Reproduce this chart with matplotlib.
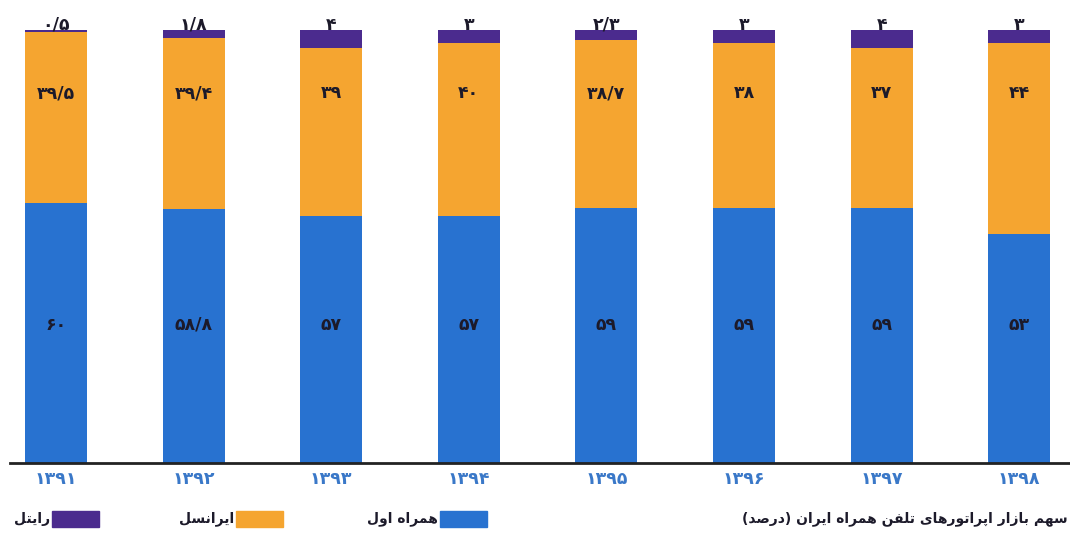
import numpy as np
import matplotlib
matplotlib.use('Agg')
import matplotlib.pyplot as plt
from matplotlib.patches import Rectangle

years = ['۱۳۹۱', '۱۳۹۲', '۱۳۹۳', '۱۳۹۴', '۱۳۹۵', '۱۳۹۶', '۱۳۹۷', '۱۳۹۸']
hamrah = [60, 58.8, 57, 57, 59, 59, 59, 53]
irancell = [39.5, 39.4, 39, 40, 38.7, 38, 37, 44]
rightel = [0.5, 1.8, 4, 3, 2.3, 3, 4, 3]
names = ['همراه اول', 'ایرانسل', 'رایتل']
title = 'سهم بازار اپراتورهای تلفن همراه ایران (درصد)'

blue = '#2872d0'
orange = '#f5a530'
purple = '#4b2b8e'
dark = '#1c1a2a'

# tiny persian shaper: matplotlib has no arabic shaping
forms = {
    'ا': ('\ufe8d', '\ufe8e', None, None),
    'ب': ('\ufe8f', '\ufe90', '\ufe91', '\ufe92'),
    'پ': ('\ufb56', '\ufb57', '\ufb58', '\ufb59'),
    'ت': ('\ufe95', '\ufe96', '\ufe97', '\ufe98'),
    'د': ('\ufea9', '\ufeaa', None, None),
    'ر': ('\ufead', '\ufeae', None, None),
    'ز': ('\ufeaf', '\ufeb0', None, None),
    'س': ('\ufeb1', '\ufeb2', '\ufeb3', '\ufeb4'),
    'ص': ('\ufeb9', '\ufeba', '\ufebb', '\ufebc'),
    'ف': ('\ufed1', '\ufed2', '\ufed3', '\ufed4'),
    'ل': ('\ufedd', '\ufede', '\ufedf', '\ufee0'),
    'م': ('\ufee1', '\ufee2', '\ufee3', '\ufee4'),
    'ن': ('\ufee5', '\ufee6', '\ufee7', '\ufee8'),
    'ه': ('\ufee9', '\ufeea', '\ufeeb', '\ufeec'),
    'و': ('\ufeed', '\ufeee', None, None),
    'ی': ('\ufbfc', '\ufbfd', '\ufbfe', '\ufbff'),
}


def fa(s):
    out = []
    for i, c in enumerate(s):
        if c not in forms:
            out.append({'(': ')', ')': '('}.get(c, c))
            continue
        prev = s[i - 1] if i > 0 else ''
        nxt = s[i + 1] if i + 1 < len(s) else ''
        jp = prev in forms and forms[prev][2] is not None
        jn = forms[c][2] is not None and nxt in forms
        f = forms[c]
        if jp and jn:
            out.append(f[3])
        elif jp:
            out.append(f[1])
        elif jn:
            out.append(f[2])
        else:
            out.append(f[0])
    return ''.join(out[::-1])


def num(v):
    s = ('%g' % v).replace('.', '/')
    return s.translate(str.maketrans('0123456789', '۰۱۲۳۴۵۶۷۸۹'))


plt.rcParams['font.family'] = ['DejaVu Sans']

fig = plt.figure(figsize=(10.7, 5.38), dpi=100)
ax = fig.add_axes([10 / 1070, 1 - 463 / 538, 1060 / 1070, 463 / 538])

x = np.arange(len(years))
w = 0.45
ax.bar(x, hamrah, w, color=blue)
ax.bar(x, irancell, w, bottom=hamrah, color=orange)
tot = np.array(hamrah) + np.array(irancell)
ax.bar(x, rightel, w, bottom=tot, color=purple)

for i in range(len(years)):
    ax.text(x[i], 32, num(hamrah[i]), ha='center', va='center', fontsize=12.5,
            fontweight='bold', color=dark)
    ax.text(x[i], 85.5, num(irancell[i]), ha='center', va='center', fontsize=12.5,
            fontweight='bold', color=dark)
    ax.text(x[i], tot[i] + rightel[i] - 0.8, num(rightel[i]), ha='center', va='bottom',
            fontsize=12.5, fontweight='bold', color=dark)

ax.set_xlim(-0.334, 7.369)
ax.set_ylim(0, 107)
for s in ['top', 'right', 'left']:
    ax.spines[s].set_visible(False)
ax.spines['bottom'].set_linewidth(2)
ax.spines['bottom'].set_color('#222222')
ax.set_yticks([])
ax.set_xticks(x)
ax.set_xticklabels(years, fontsize=12.5, fontweight='bold', color='#3a78c8')
ax.tick_params(axis='x', length=0, pad=5)

# legend, right-to-left
leg_y = 1 - 519 / 538
items = [(names[0], blue, 440), (names[1], orange, 236), (names[2], purple, 52)]
for name, col, px in items:
    fig.patches.append(Rectangle((px / 1070, leg_y - 8 / 538), 47 / 1070, 16 / 538,
                                 transform=fig.transFigure, color=col))
    fig.text((px - 2) / 1070, leg_y, fa(name), ha='right', va='center', fontsize=10,
             fontweight='bold', color=dark)

fig.text(1068 / 1070, leg_y, fa(title), ha='right', va='center', fontsize=10,
         fontweight='bold', color=dark)

fig.savefig('out.png', dpi=100, facecolor='white')
